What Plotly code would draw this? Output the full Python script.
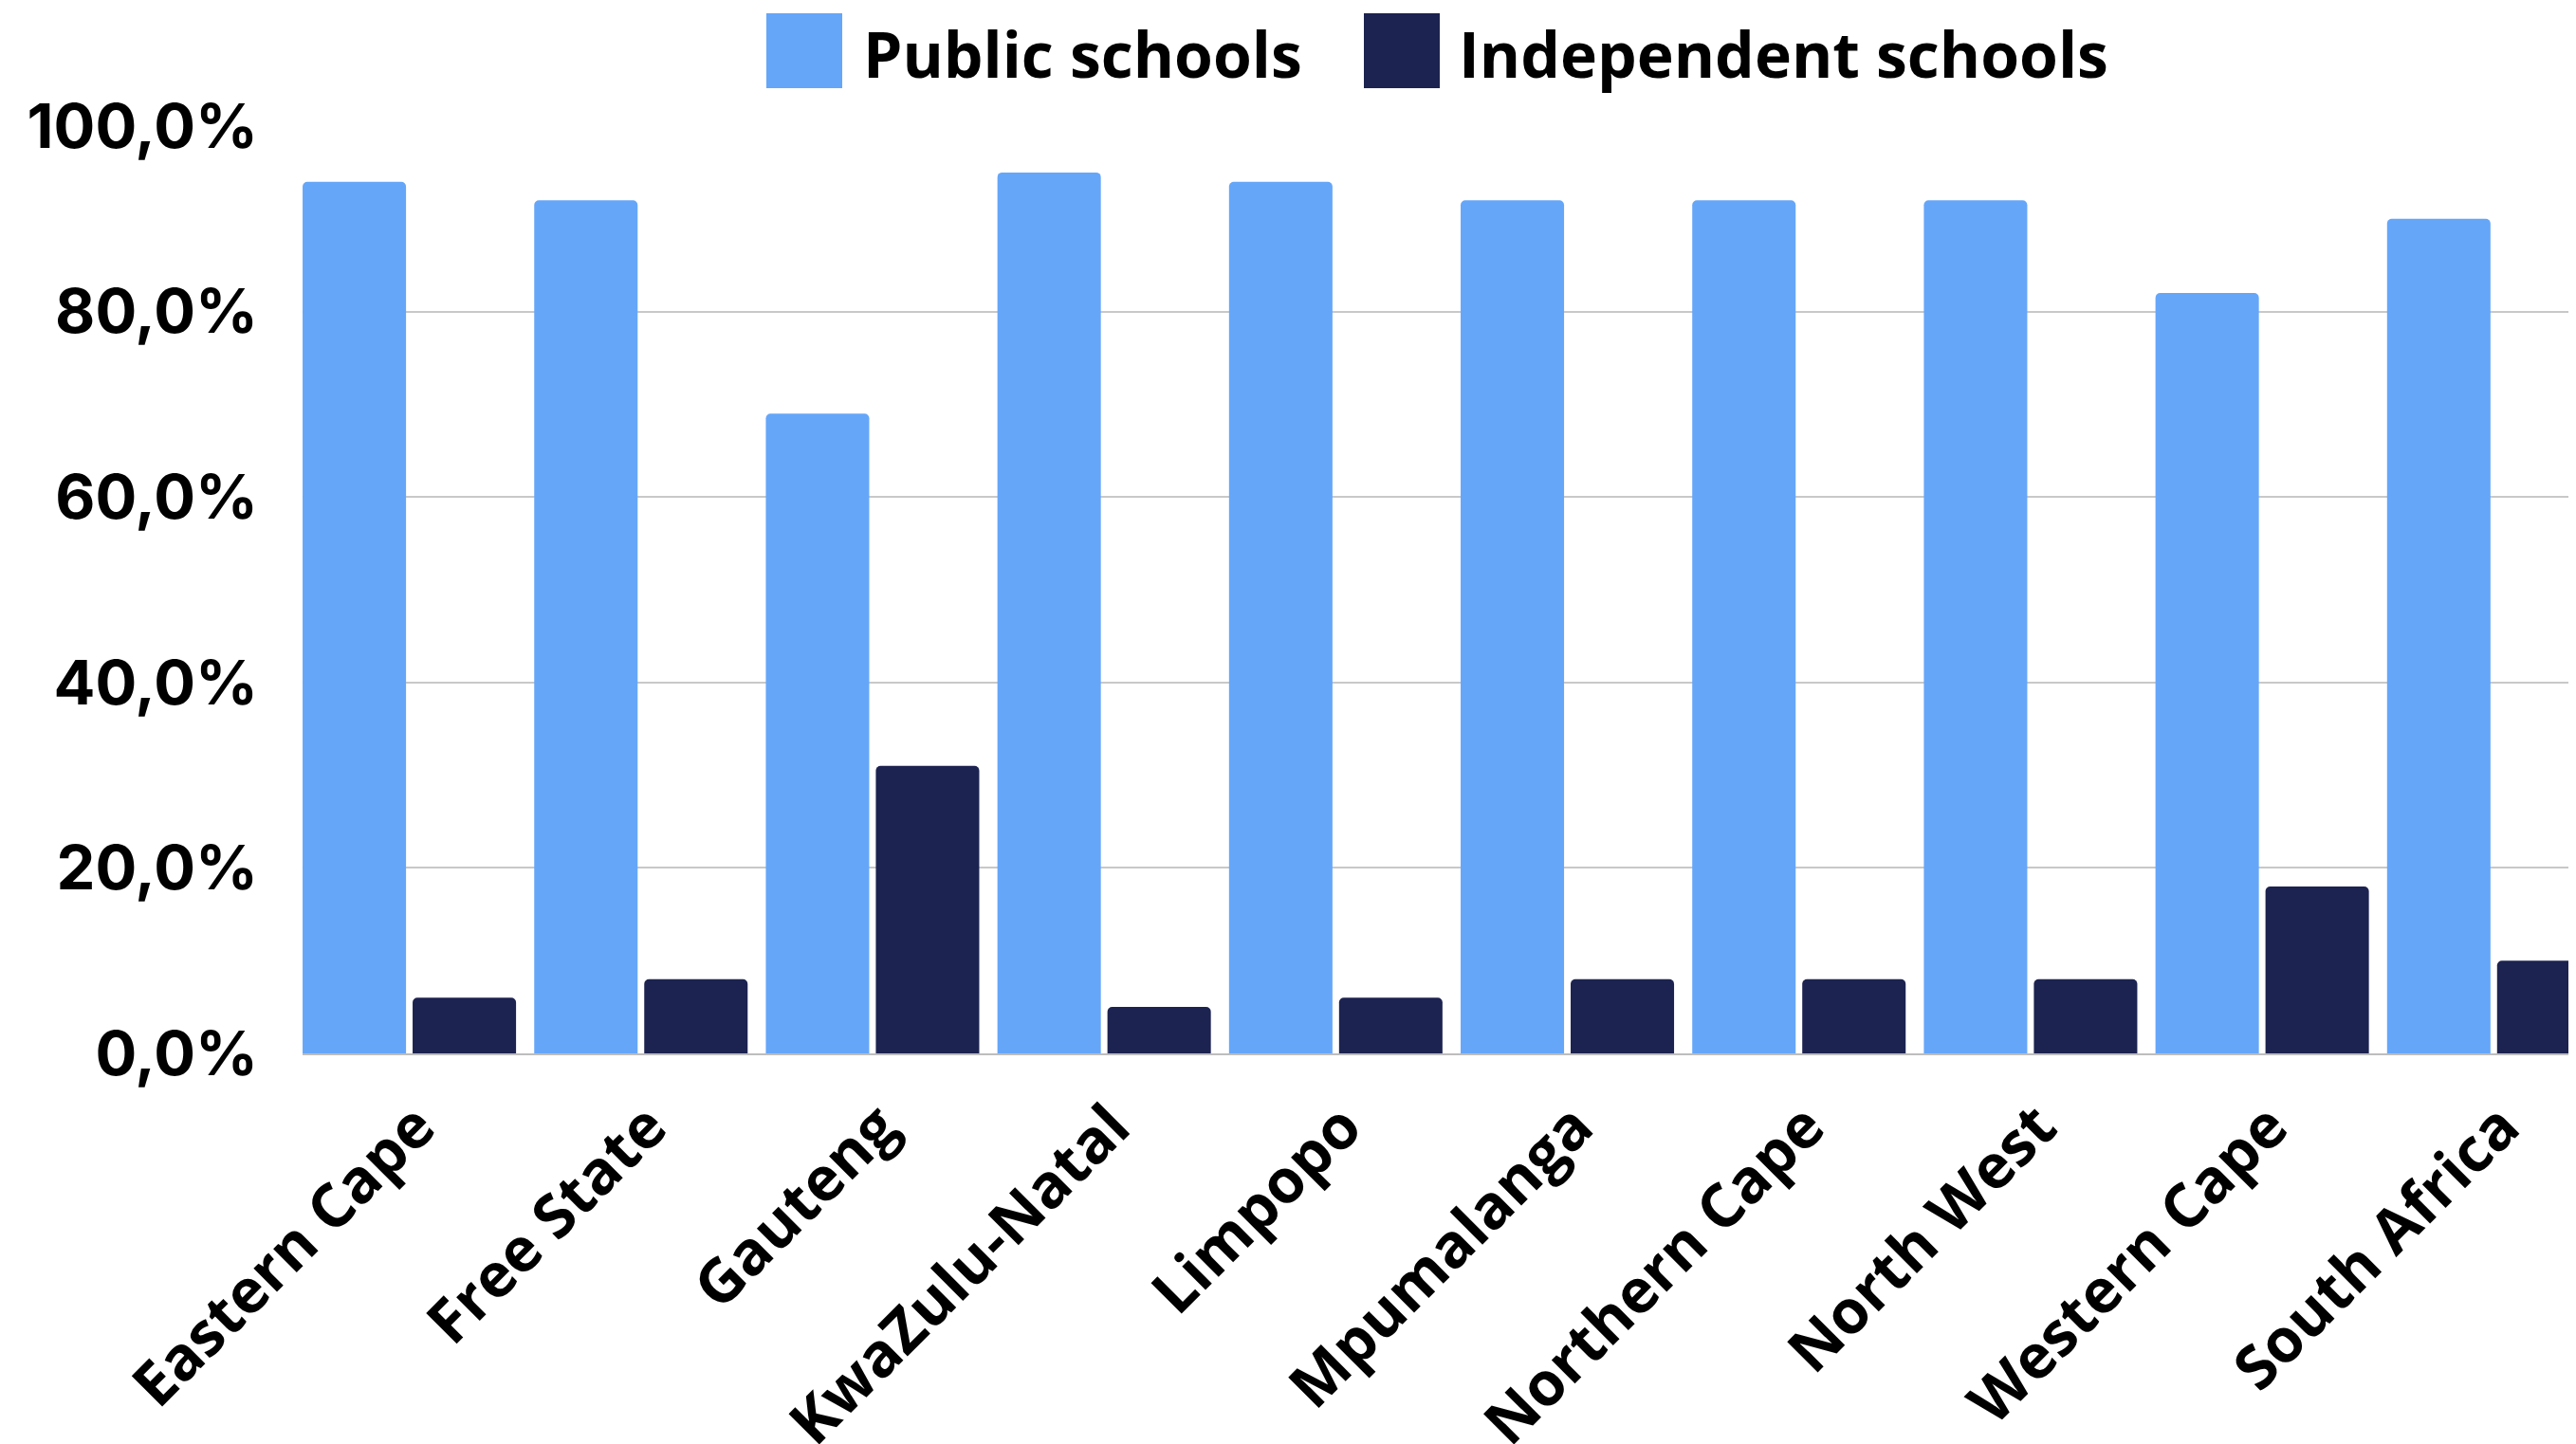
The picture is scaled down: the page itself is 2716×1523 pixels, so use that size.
import plotly.graph_objects as go

categories = ["Eastern Cape", "Free State", "Gauteng", "KwaZulu-Natal", "Limpopo",
              "Mpumalanga", "Northern Cape", "North West", "Western Cape", "South Africa"]
public_schools = [94, 92, 69, 95, 94, 92, 92, 92, 82, 90]
independent_schools = [6, 8, 31, 5, 6, 8, 8, 8, 18, 10]
y_ticks = [0, 20, 40, 60, 80, 100]
y_tick_labels = ["0,0%", "20,0%", "40,0%", "60,0%", "80,0%", "100,0%"]
series_names = ["Public schools", "Independent schools"]

PUBLIC = "#65A6F9"
INDEP = "#1C2350"
# page body has an 8px margin, so the figure is drawn 8px smaller and offset
W, H = 2708, 1515
ML, MR, MT, MB = 311, 0, 125, 412

fig = go.Figure()
fig.add_trace(go.Bar(x=categories, y=public_schools, name=series_names[0],
                     marker=dict(color=PUBLIC, line=dict(width=0), cornerradius=5),
                     showlegend=False))
fig.add_trace(go.Bar(x=categories, y=independent_schools, name=series_names[1],
                     marker=dict(color=INDEP, line=dict(width=0), cornerradius=5),
                     showlegend=False))

fig.update_layout(
    width=W, height=H,
    margin=dict(l=ML, r=MR, t=MT, b=MB, autoexpand=False),
    paper_bgcolor="white", plot_bgcolor="white",
    barmode="group", bargap=0.05, bargroupgap=0.06,
    font=dict(family="Open Sans", color="#000000"),
    xaxis=dict(
        type="category", range=[-0.461, 9.355], automargin=False,
        tickangle=-45,
        tickfont=dict(family="Open Sans", size=64, color="#000000", weight=700),
        showgrid=False, showline=True, linecolor="#BDBDBD", linewidth=2,
        ticks="", ticklabelstandoff=12, ticklabelshift=8,
    ),
    yaxis=dict(
        range=[0, 100], tickvals=y_ticks, ticktext=y_tick_labels, automargin=False,
        tickfont=dict(family="Inter", size=65, color="#000000", weight=700),
        showgrid=True, gridcolor="#C8C8C8", gridwidth=2,
        zeroline=False, showline=False, ticks="", ticklabelstandoff=46,
    ),
)

# custom legend with large swatches, positioned in pixel-equivalent paper coordinates
plot_h = H - MT - MB
plot_w = W - ML - MR
def px_x(p):
    return (p - ML) / plot_w
def px_y(p):
    return (H - MB - p) / plot_h

legend_items = [(series_names[0], PUBLIC, 800, 900), (series_names[1], INDEP, 1430, 1528)]
for name, col, sx, tx in legend_items:
    fig.add_shape(type="rect", xref="paper", yref="paper",
                  x0=px_x(sx), x1=px_x(sx + 80), y0=px_y(85), y1=px_y(6),
                  fillcolor=col, line=dict(width=0), layer="above")
    fig.add_annotation(xref="paper", yref="paper", x=px_x(tx), y=px_y(48),
                       xanchor="left", yanchor="middle", showarrow=False,
                       text=name,
                       font=dict(family="Open Sans", size=66, color="#000000", weight=700))

fig.write_html("out.html")
